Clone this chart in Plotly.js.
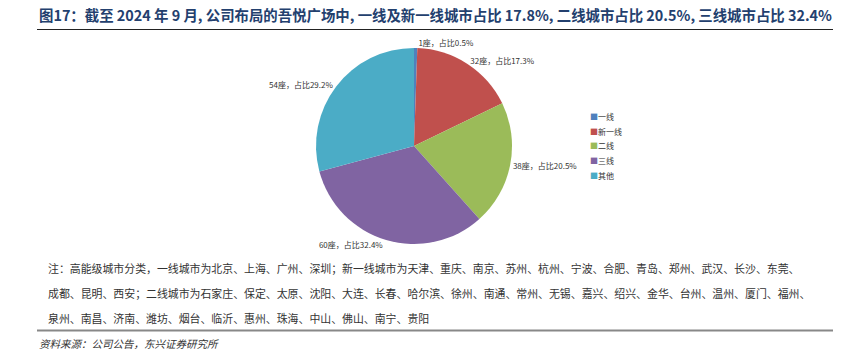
<!DOCTYPE html>
<html>
<head>
<meta charset="utf-8">
<script src="https://cdn.plot.ly/plotly-3.0.1.min.js"></script>
<style>html,body{margin:0;padding:0;background:#fff;}#chart{width:844px;height:351px;}</style>
</head>
<body>
<div id="chart"></div>
<script>
// Data
const categories = ['一线', '新一线', '二线', '三线', '其他'];
const counts = [1, 32, 38, 60, 54];
const colors = ['#4F81BD', '#C0504D', '#9BBB59', '#8064A2', '#4BACC6'];

const titleText = '图17：截至 2024 年 9 月, 公司布局的吾悦广场中, 一线及新一线城市占比 17.8%, 二线城市占比 20.5%, 三线城市占比 32.4%';
const noteLines = [
  '注：高能级城市分类，一线城市为北京、上海、广州、深圳；新一线城市为天津、重庆、南京、苏州、杭州、宁波、合肥、青岛、郑州、武汉、长沙、东莞、',
  '成都、昆明、西安；二线城市为石家庄、保定、太原、沈阳、大连、长春、哈尔滨、徐州、南通、常州、无锡、嘉兴、绍兴、金华、台州、温州、厦门、福州、',
  '泉州、南昌、济南、潍坊、烟台、临沂、惠州、珠海、中山、佛山、南宁、贵阳'
];
const sourceText = '资料来源：公司公告，东兴证券研究所';

const W = 844, H = 351;
const px = x => x / W;
const py = y => 1 - y / H;
const CJK = '"Noto Sans CJK SC", "Noto Sans", sans-serif';

const trace = {
  type: 'pie',
  labels: categories,
  values: counts,
  marker: {colors: colors, line: {width: 0}},
  sort: false,
  direction: 'clockwise',
  rotation: 0,
  textposition: 'outside',
  texttemplate: '%{value}座，占比%{percent:.1%}',
  outsidetextfont: {family: CJK, size: 8, color: '#333'},
  hoverinfo: 'none',
  showlegend: false,
  domain: {x: [px(316), px(512)], y: [py(244), py(48)]}
};

const annotations = [];
annotations.push({
  xref: 'paper', yref: 'paper', x: px(37), y: py(14), xanchor: 'left', yanchor: 'middle',
  text: '<b>' + titleText + '</b>', showarrow: false,
  font: {family: CJK, size: 14.4, color: '#23406E'}
});
const noteY = [268, 293, 318];
noteLines.forEach((t, i) => {
  annotations.push({
    xref: 'paper', yref: 'paper', x: px(46), y: py(noteY[i]), xanchor: 'left', yanchor: 'middle',
    text: t, showarrow: false, font: {family: CJK, size: 10.9, color: '#333'}
  });
});
annotations.push({
  xref: 'paper', yref: 'paper', x: px(37), y: py(343), xanchor: 'left', yanchor: 'middle',
  text: '<i>' + sourceText + '</i>', showarrow: false, font: {family: CJK, size: 10.5, color: '#333'}
});
// legend
const legY0 = 116.7, legDy = 14.6;
categories.forEach((c, i) => {
  annotations.push({
    xref: 'paper', yref: 'paper', x: px(588), y: py(legY0 + i * legDy), xanchor: 'left', yanchor: 'middle',
    text: '<span style="color:' + colors[i] + '">■</span>' + c, showarrow: false,
    font: {family: CJK, size: 8, color: '#333'}
  });
});

const layout = {
  width: W, height: H,
  margin: {l: 0, r: 0, t: 0, b: 0},
  paper_bgcolor: '#fff', plot_bgcolor: '#fff',
  showlegend: false,
  annotations: annotations,
  shapes: [
    {type: 'line', xref: 'paper', yref: 'paper', x0: px(37), x1: px(833), y0: py(29.5), y1: py(29.5), line: {color: '#222', width: 1.2}},
    {type: 'line', xref: 'paper', yref: 'paper', x0: px(37), x1: px(833), y0: py(330.5), y1: py(330.5), line: {color: '#888', width: 2}}
  ]
};

Plotly.newPlot('chart', [trace], layout, {displayModeBar: false, staticPlot: true});
</script>
</body>
</html>
